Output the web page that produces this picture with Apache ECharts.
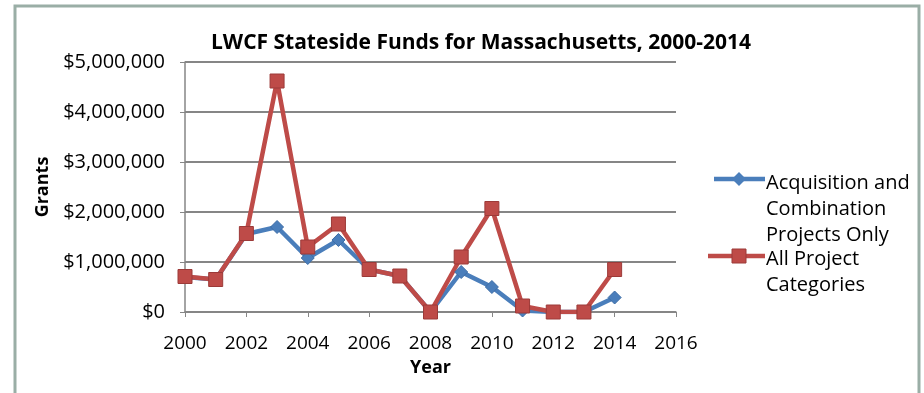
<!DOCTYPE html>
<html>
<head>
<meta charset="utf-8">
<script src="https://cdn.jsdelivr.net/npm/echarts@6/dist/echarts.min.js"></script>
<style>
  html, body { margin: 0; padding: 0; background: #fff; }
  #chart { width: 924px; height: 393px; }
</style>
</head>
<body>
<div id="chart"></div>
<script>
var years = [2000, 2001, 2002, 2003, 2004, 2005, 2006, 2007, 2008, 2009, 2010, 2011, 2012, 2013, 2014];
var acquisition = [700000, 650000, 1560000, 1700000, 1080000, 1440000, 850000, 720000, 0, 800000, 500000, 30000, 0, 0, 290000];
var allProjects = [710000, 650000, 1570000, 4620000, 1300000, 1760000, 850000, 720000, 0, 1100000, 2070000, 120000, 0, 0, 850000];
var seriesNames = ['Acquisition and\nCombination\nProjects Only', 'All Project\nCategories'];

var blue = '#4A7EBB';
var red = '#BE4B48';
var font = 'Open Sans';

function pairs(vals) {
    return years.map(function(y, i) { return [y, vals[i]]; });
}

var myChart = echarts.init(document.getElementById('chart'));

var option = {
    backgroundColor: '#fff',
    animation: false,
    title: {
        text: 'LWCF Stateside Funds for Massachusetts, 2000-2014',
        left: 476,
        top: 28,
        textAlign: 'center',
        textStyle: { fontFamily: font, fontSize: 21, fontWeight: 'bold', color: '#000' }
    },
    grid: { left: 185, right: 248, top: 62, bottom: 81 },
    xAxis: {
        type: 'value',
        min: 2000, max: 2016, interval: 2,
        name: 'Year',
        nameLocation: 'middle',
        nameGap: 47,
        nameTextStyle: { fontFamily: font, fontSize: 18, fontWeight: 'bold', color: '#000' },
        axisLine: { lineStyle: { color: '#868686', width: 1.5 } },
        axisTick: { show: true, length: 5, lineStyle: { color: '#868686' } },
        splitLine: { show: false },
        axisLabel: {
            margin: 22,
            fontFamily: font, fontSize: 19, color: '#000',
            formatter: function(v) { return String(v); }
        }
    },
    yAxis: {
        type: 'value',
        min: 0, max: 5000000, interval: 1000000,
        name: 'Grants',
        nameLocation: 'middle',
        nameGap: 128,
        nameRotate: 90,
        nameTextStyle: { fontFamily: font, fontSize: 18, fontWeight: 'bold', color: '#000' },
        axisLine: { show: true, lineStyle: { color: '#868686', width: 1.5 } },
        axisTick: { show: true, length: 5, lineStyle: { color: '#868686' } },
        splitLine: { lineStyle: { color: '#868686', width: 2 } },
        axisLabel: {
            margin: 20,
            fontFamily: font, fontSize: 20, color: '#000',
            formatter: function(v) { return '$' + v.toLocaleString('en-US'); }
        }
    },
    series: [
        {
            name: seriesNames[0],
            type: 'line',
            data: pairs(acquisition),
            symbol: 'diamond',
            symbolSize: 13,
            lineStyle: { color: blue, width: 4.5 },
            itemStyle: { color: blue, borderColor: '#3d6da6', borderWidth: 1 }
        },
        {
            name: seriesNames[1],
            type: 'line',
            data: pairs(allProjects),
            symbol: 'rect',
            symbolSize: 14,
            lineStyle: { color: red, width: 4.5 },
            itemStyle: { color: red, borderColor: '#9c3a38', borderWidth: 1 }
        }
    ],
    graphic: [
        {
            type: 'rect',
            shape: { x: 15, y: 6, width: 904, height: 420 },
            style: { fill: 'none', stroke: '#9aaea6', lineWidth: 3 },
            silent: true
        },
        // legend
        { type: 'line', shape: { x1: 714, y1: 179, x2: 765, y2: 179 }, style: { stroke: blue, lineWidth: 4.5 } },
        { type: 'polygon', shape: { points: [[739, 172], [746, 179], [739, 186], [732, 179]] }, style: { fill: blue } },
        { type: 'text', left: 766, top: 170, style: { text: seriesNames[0], fontFamily: font, fontSize: 20, lineHeight: 26, fill: '#000' } },
        { type: 'line', shape: { x1: 708, y1: 256, x2: 765, y2: 256 }, style: { stroke: red, lineWidth: 4.5 } },
        { type: 'rect', shape: { x: 732, y: 249, width: 14, height: 14 }, style: { fill: red, stroke: '#9c3a38' } },
        { type: 'text', left: 766, top: 246, style: { text: seriesNames[1], fontFamily: font, fontSize: 20, lineHeight: 26, fill: '#000' } }
    ]
};

myChart.setOption(option);
</script>
</body>
</html>
